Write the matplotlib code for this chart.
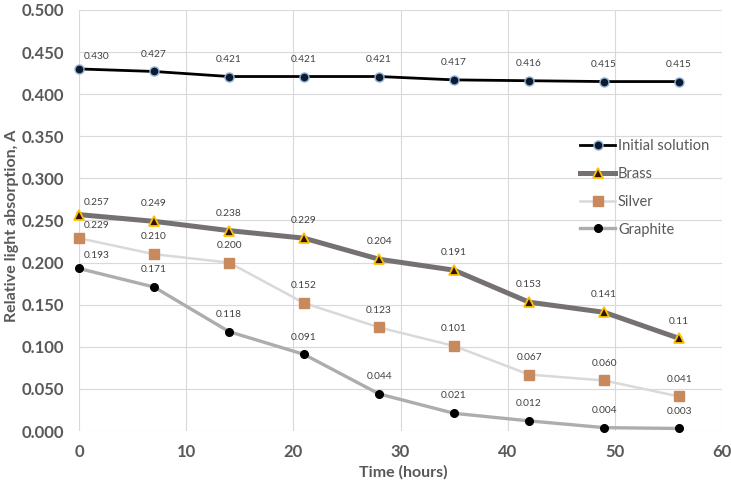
import matplotlib
matplotlib.use("Agg")
import matplotlib.pyplot as plt

plt.rcParams['font.family'] = ['Lato', 'DejaVu Sans']

# time points (hours)
hours = [0, 7, 14, 21, 28, 35, 42, 49, 56]

initial = [0.430, 0.427, 0.421, 0.421, 0.421, 0.417, 0.416, 0.415, 0.415]
brass = [0.257, 0.249, 0.238, 0.229, 0.204, 0.191, 0.153, 0.141, 0.11]
silver = [0.229, 0.210, 0.200, 0.152, 0.123, 0.101, 0.067, 0.060, 0.041]
graphite = [0.193, 0.171, 0.118, 0.091, 0.044, 0.021, 0.012, 0.004, 0.003]

# data labels as printed on the chart
brass_labels = ['0.257', '0.249', '0.238', '0.229', '0.204', '0.191', '0.153', '0.141', '0.11']

x_ticks = [0, 10, 20, 30, 40, 50, 60]
y_ticks = [0.0, 0.05, 0.1, 0.15, 0.2, 0.25, 0.3, 0.35, 0.4, 0.45, 0.5]

grey = '#595959'

fig = plt.figure(figsize=(7.31, 4.86), dpi=100)
ax = fig.add_axes([79 / 731, 1 - 431 / 486, (722 - 79) / 731, (431 - 10) / 486])

series = [
    dict(y=initial, label='Initial solution', color='black', lw=2.0, marker='o', ms=6.5,
         mfc='#0B1A2E', mec='#8FB3D9', mew=1.0,
         texts=['%.3f' % v for v in initial]),
    dict(y=brass, label='Brass', color='#767171', lw=3.6, marker='^', ms=7,
         mfc='#2B1408', mec='#FFC000', mew=1.3, texts=brass_labels),
    dict(y=silver, label='Silver', color='#D9D9D9', lw=1.8, marker='s', ms=6.5,
         mfc='#C8895C', mec='#C8895C', mew=1.0,
         texts=['%.3f' % v for v in silver]),
    dict(y=graphite, label='Graphite', color='#ADADAD', lw=2.4, marker='o', ms=5.5,
         mfc='black', mec='black', mew=1.0,
         texts=['%.3f' % v for v in graphite]),
]

for s in series:
    ax.plot(hours, s['y'], color=s['color'], lw=s['lw'], marker=s['marker'],
            ms=s['ms'], mfc=s['mfc'], mec=s['mec'], mew=s['mew'],
            label=s['label'], clip_on=False, zorder=3)
    for i, (xv, yv) in enumerate(zip(hours, s['y'])):
        off = (13, 9) if i == 0 else (0, 12.5)
        ax.annotate(s['texts'][i], (xv, yv), xytext=off, textcoords='offset points',
                    ha='center', va='center', fontsize=7.3, color='#404040', zorder=4)

ax.set_xlim(0, 60)
ax.set_ylim(0, 0.5)
ax.set_xticks(x_ticks)
ax.set_yticks(y_ticks)
ax.set_yticklabels(['%.3f' % v for v in y_ticks])
ax.grid(True, color='#D9D9D9', lw=0.8)
ax.set_axisbelow(True)
for sp in ax.spines.values():
    sp.set_visible(False)

ax.tick_params(length=0, labelsize=12, labelcolor=grey)
ax.tick_params(axis='y', pad=11)
ax.tick_params(axis='x', pad=9)
for t in ax.get_xticklabels() + ax.get_yticklabels():
    t.set_fontweight('bold')

ax.set_xlabel('Time (hours)', fontsize=11.5, fontweight='bold', color=grey, va='center')
ax.set_ylabel('Relative light absorption, A', fontsize=11.5, fontweight='bold', color=grey, va='center')
ax.xaxis.set_label_coords(0.504, -0.097)
ax.yaxis.set_label_coords(-0.104, 0.487)

ax.legend(loc='upper left', bbox_to_anchor=(580 / 731, 1 - 139 / 486),
          bbox_transform=fig.transFigure, frameon=False, fontsize=10.5,
          labelcolor=grey, handlelength=2.4, handletextpad=0.2,
          labelspacing=0.95, borderaxespad=0, borderpad=0)

fig.savefig('out.png', dpi=100)
